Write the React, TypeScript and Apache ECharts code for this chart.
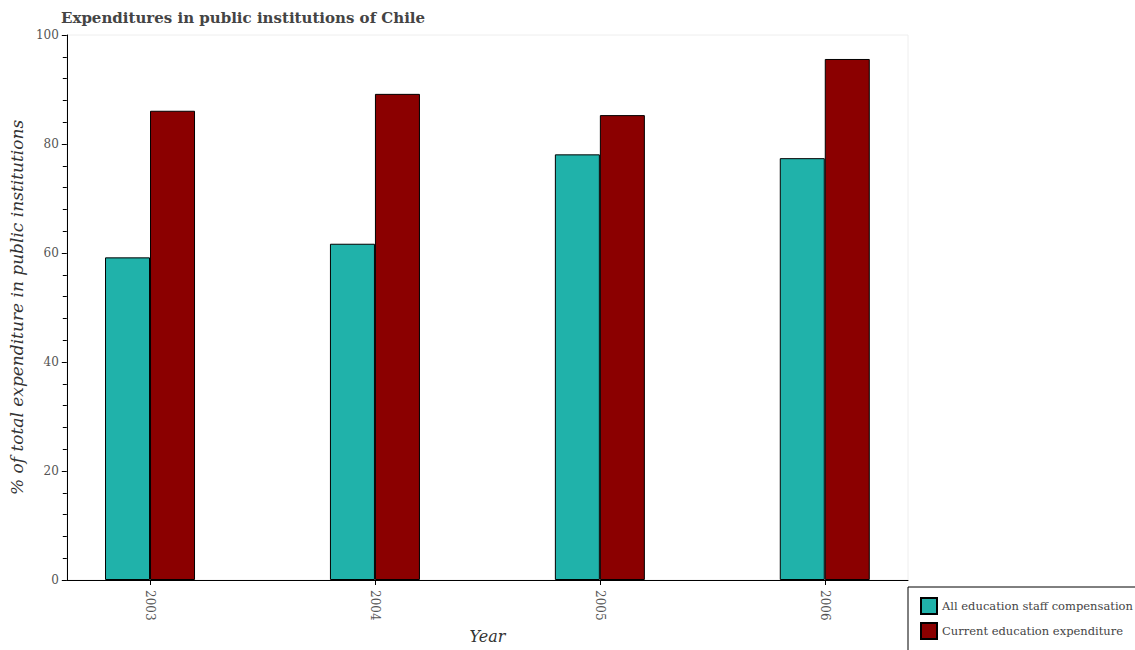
import React, { useEffect, useRef } from "react";
import * as echarts from "echarts";

const years = ["2003", "2004", "2005", "2006"];
const staffCompensation = [59.2, 61.7, 78.1, 77.4];
const currentExpenditure = [86.1, 89.2, 85.3, 95.6];
const yTicks = [0, 20, 40, 60, 80, 100];

const FONT = "DejaVu Serif";

export default function App() {
  const ref = useRef<HTMLDivElement>(null);
  useEffect(() => {
    if (!ref.current) return;
    const chart = echarts.init(ref.current, null, { renderer: "svg" });
    const yearNums = years.map((y) => Number(y));
    chart.setOption({
      animation: false,
      backgroundColor: "#ffffff",
      title: {
        text: "Expenditures in public institutions of Chile",
        left: 61,
        top: 10,
        padding: 0,
        textStyle: { fontFamily: FONT, fontSize: 15, fontWeight: "bold", color: "#444" },
      },
      grid: {
        left: 61,
        right: 227,
        top: 35,
        bottom: 70,
        show: true,
        borderColor: "#eeeeee",
        borderWidth: 1,
        backgroundColor: "transparent",
      },
      legend: {
        orient: "vertical",
        left: 908,
        top: 587,
        width: 226,
        height: 62,
        padding: [10, 8, 13, 12],
        itemWidth: 16,
        itemHeight: 16,
        itemGap: 7,
        borderColor: "#000",
        borderWidth: 1,
        icon: "rect",
        textStyle: { fontFamily: FONT, fontSize: 11.5, color: "#444" },
        data: ["All education staff compensation", "Current education expenditure"],
      },
      xAxis: {
        type: "value",
        min: 2002.63,
        max: 2006.37,
        name: "Year",
        nameLocation: "middle",
        nameGap: 45,
        nameTextStyle: { fontFamily: FONT, fontSize: 16, fontStyle: "italic", color: "#333" },
        splitLine: { show: false },
        axisLine: { show: true, lineStyle: { color: "#000", width: 1 } },
        axisTick: { show: true, length: 5, customValues: yearNums, lineStyle: { color: "#000" } },
        axisLabel: {
          customValues: yearNums,
          rotate: -90,
          margin: 10,
          fontFamily: FONT,
          fontSize: 12,
          color: "#555",
          formatter: (v: number) => String(Math.round(v)),
        },
      },
      yAxis: {
        type: "value",
        min: 0,
        max: 100,
        interval: 20,
        name: "% of total expenditure in public institutions",
        nameLocation: "middle",
        nameGap: 32,
        nameTextStyle: { fontFamily: FONT, fontSize: 17, fontStyle: "italic", color: "#333" },
        splitLine: { show: false },
        axisLine: { show: true, lineStyle: { color: "#000", width: 1 } },
        axisTick: { show: true, length: 5, lineStyle: { color: "#000" } },
        minorTick: { show: true, splitNumber: 5, length: 4, lineStyle: { color: "#000" } },
        axisLabel: {
          fontFamily: FONT,
          fontSize: 12,
          color: "#555",
          margin: 8,
          formatter: (v: number) => (yTicks.includes(v) ? String(v) : ""),
        },
      },
      series: [
        {
          name: "All education staff compensation",
          type: "bar",
          barWidth: 45,
          barGap: "0%",
          itemStyle: { color: "#20B2AA", borderColor: "#000", borderWidth: 1 },
          data: yearNums.map((y, i) => [y, staffCompensation[i]]),
        },
        {
          name: "Current education expenditure",
          type: "bar",
          barWidth: 45,
          barGap: "0%",
          itemStyle: { color: "#8B0000", borderColor: "#000", borderWidth: 1 },
          data: yearNums.map((y, i) => [y, currentExpenditure[i]]),
        },
      ],
    });
    return () => chart.dispose();
  }, []);
  return (
    <div
      ref={ref}
      style={{ position: "fixed", left: 0, top: 0, width: 1135, height: 650 }}
    />
  );
}
